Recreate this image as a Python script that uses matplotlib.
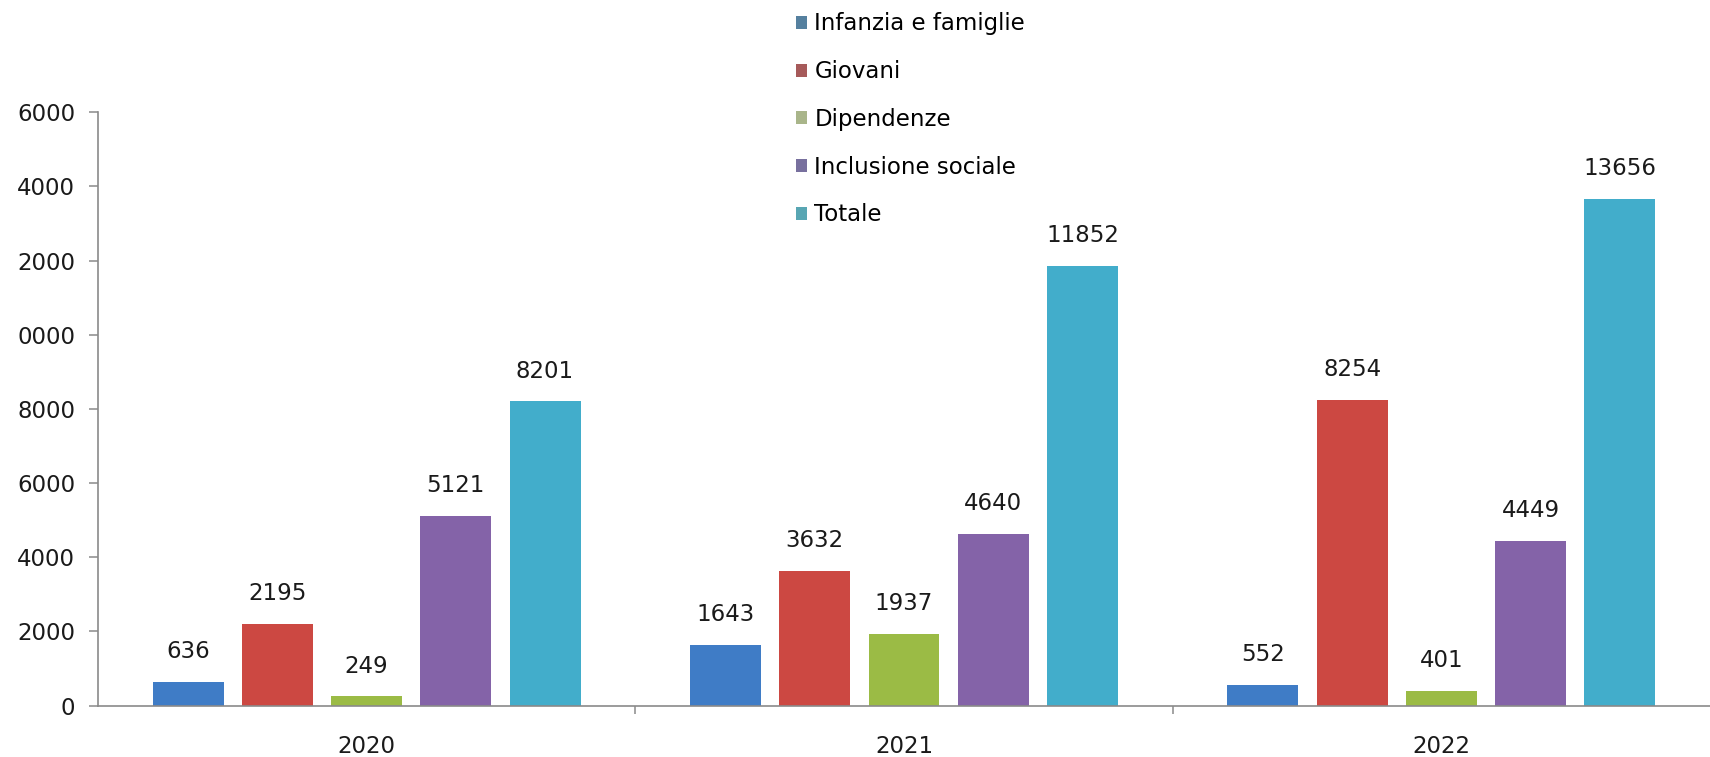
import matplotlib
matplotlib.use("Agg")
import matplotlib.pyplot as plt
import numpy as np
from matplotlib.patches import Patch

# data
years = ["2020", "2021", "2022"]
series = ["Infanzia e famiglie", "Giovani", "Dipendenze", "Inclusione sociale", "Totale"]
infanzia = [636, 1643, 552]
giovani = [2195, 3632, 8254]
dipendenze = [249, 1937, 401]
inclusione = [5121, 4640, 4449]
totale = [8201, 11852, 13656]
values = [infanzia, giovani, dipendenze, inclusione, totale]

# y tick labels as they appear (leading "1" cut off in the source)
ytick_vals = [0, 2000, 4000, 6000, 8000, 10000, 12000, 14000, 16000]
ytick_labels = ["0", "2000", "4000", "6000", "8000", "0000", "2000", "4000", "6000"]

bar_colors = ["#3f7cc6", "#cc4842", "#9bbb45", "#8463a8", "#42adcb"]
legend_colors = ["#55809f", "#a65a5a", "#a9b58a", "#78709e", "#58a6b3"]

plt.rcParams['font.family'] = ['DejaVu Sans']
fs = 16.5

fig = plt.figure(figsize=(17.1, 7.57), dpi=100)
ax = fig.add_axes([0.0573, 0.0679, 0.9427, 0.7838])

x = np.arange(len(years))
step = 0.166
width = 0.132
for i, (vals, col) in enumerate(zip(values, bar_colors)):
    pos = x + (i - 2) * step
    bars = ax.bar(pos, vals, width, color=col, zorder=2)
    for b, v in zip(bars, vals):
        ax.annotate(str(v), (b.get_x() + b.get_width() / 2, v),
                    xytext=(0, 13.5), textcoords="offset points",
                    ha="center", va="bottom", fontsize=fs, color="#1a1a1a")

ax.set_xlim(-0.5, 2.5)
ax.set_ylim(0, 16000)
ax.set_yticks(ytick_vals)
ax.set_yticklabels(ytick_labels)
ax.set_xticks(x)
ax.set_xticklabels(years)
ax.set_xticks([0.5, 1.5], minor=True)

for s in ["top", "right"]:
    ax.spines[s].set_visible(False)
for s in ["left", "bottom"]:
    ax.spines[s].set_color("#8a8a8a")
    ax.spines[s].set_linewidth(1.2)

ax.tick_params(axis="y", direction="out", length=6.5, width=1.1, color="#8a8a8a",
               pad=10, labelsize=fs, labelcolor="#1a1a1a")
ax.tick_params(axis="x", which="major", length=0, pad=21, labelsize=fs, labelcolor="#1a1a1a")
ax.tick_params(axis="x", which="minor", direction="out", length=6, width=1.1, color="#8a8a8a")

handles = [Patch(facecolor=c, edgecolor="none") for c in legend_colors]
fig.legend(handles, series, loc="upper left", bbox_to_anchor=(0.4655, 0.9835),
           frameon=False, fontsize=fs, handlelength=0.5, handleheight=0.5,
           handletextpad=0.3, labelspacing=1.08, borderpad=0, borderaxespad=0)

fig.savefig("out.png", dpi=100)
